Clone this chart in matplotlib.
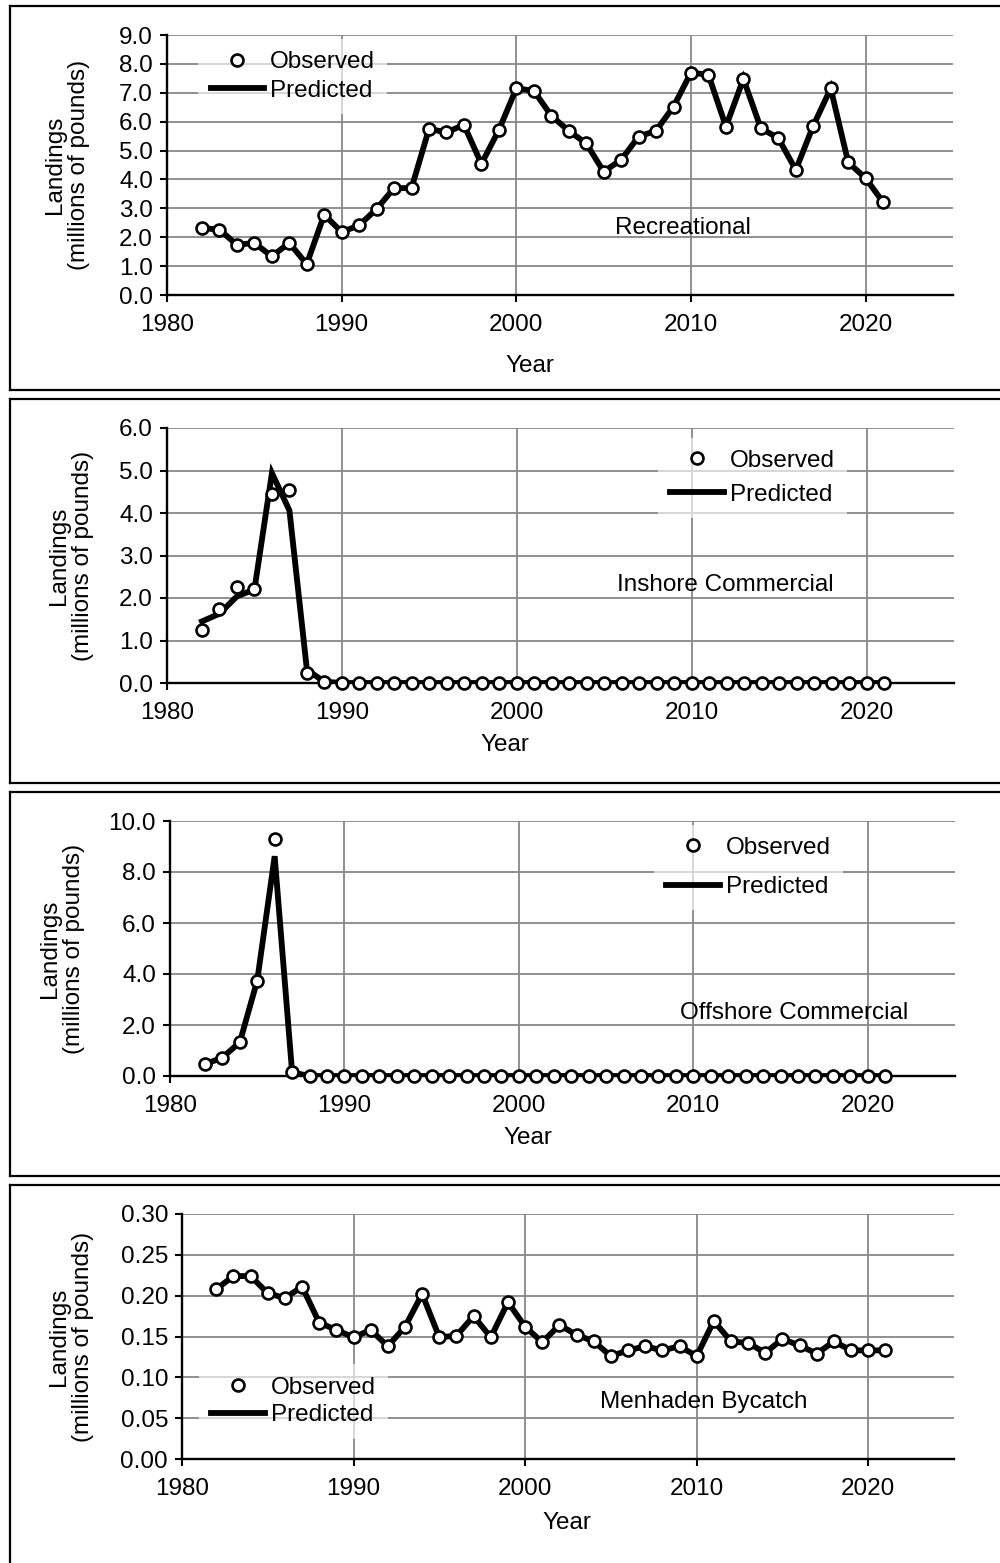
import numpy as np
import matplotlib
matplotlib.use("Agg")
import matplotlib.pyplot as plt
from matplotlib.lines import Line2D

plt.rcParams['font.family'] = ['Liberation Sans', 'DejaVu Sans']

years = list(range(1982, 2022))

rec_obs = [2.32, 2.26, 1.74, 1.80, 1.34, 1.80, 1.07, 2.78, 2.18, 2.41,
           2.98, 3.70, 3.70, 5.75, 5.63, 5.89, 4.54, 5.71, 7.15, 7.07,
           6.21, 5.68, 5.25, 4.27, 4.68, 5.48, 5.69, 6.52, 7.70, 7.62,
           5.83, 7.48, 5.77, 5.43, 4.33, 5.86, 7.15, 4.59, 4.04, 3.21]
rec_pred = list(rec_obs)

ins_obs = [1.25, 1.74, 2.26, 2.22, 4.45, 4.53, 0.24, 0.02] + [0.0] * 32
ins_pred = [1.45, 1.63, 2.04, 2.20, 4.94, 4.06, 0.31, 0.03] + [0.0] * 32

off_obs = [0.46, 0.72, 1.32, 3.74, 9.28, 0.14] + [0.0] * 34
off_pred = [0.46, 0.72, 1.32, 3.74, 8.62, 0.14] + [0.0] * 34

byc_obs = [0.208, 0.224, 0.224, 0.203, 0.197, 0.211, 0.167, 0.158, 0.149, 0.158,
           0.138, 0.162, 0.202, 0.149, 0.151, 0.175, 0.149, 0.192, 0.162, 0.143,
           0.164, 0.152, 0.144, 0.126, 0.133, 0.138, 0.133, 0.138, 0.126, 0.169,
           0.144, 0.142, 0.130, 0.147, 0.139, 0.129, 0.144, 0.133, 0.133, 0.133]
byc_pred = list(byc_obs)

W, H = 1000, 1563
fig = plt.figure(figsize=(W / 100, H / 100), dpi=100)


def fx(px):
    return px / W


def fy(py):
    return 1 - py / H


FS = 17.5

# (observed, predicted, name, ymax, ystep, yfmt, axes box px, ylabel x px,
#  name pos (axes), legend anchor (axes), legend labelspacing, year label px)
panels = [
    (rec_obs, rec_pred, 'Recreational', 9.0, 1.0, '%.1f',
     (167, 953, 35, 295), 67, (0.656, 0.258), (0.040, 0.985), 0.28, (530, 366)),
    (ins_obs, ins_pred, 'Inshore Commercial', 6.0, 1.0, '%.1f',
     (167, 954, 428, 683), 71, (0.709, 0.384), (0.624, 0.962), 0.48, (505, 745)),
    (off_obs, off_pred, 'Offshore Commercial', 10.0, 2.0, '%.1f',
     (170, 955, 821, 1076), 62, (0.795, 0.247), (0.617, 0.985), 0.7, (528, 1138)),
    (byc_obs, byc_pred, 'Menhaden Bycatch', 0.30, 0.05, '%.2f',
     (182, 954, 1214, 1459), 71, (0.676, 0.233), (0.022, 0.386), 0.24, (567, 1523)),
]

# outer boxes around each panel (right side runs off the page)
frames = [(6, 390, True), (399, 783, True), (792, 1176, True), (1185, 1580, False)]
for top, bot, has_bottom in frames:
    fig.add_artist(Line2D([fx(10), fx(10)], [fy(top), fy(min(bot, H + 5))],
                          color='black', lw=1.6, transform=fig.transFigure))
    fig.add_artist(Line2D([fx(10), fx(1005)], [fy(top), fy(top)],
                          color='black', lw=1.6, transform=fig.transFigure))
    if has_bottom:
        fig.add_artist(Line2D([fx(10), fx(1005)], [fy(bot), fy(bot)],
                              color='black', lw=1.6, transform=fig.transFigure))

for (obs, pred, name, ymax, ystep, yfmt, box, ylx, namepos, legpos,
     lspace, yearpos) in panels:
    l, r, t, b = box
    ax = fig.add_axes([fx(l), fy(b), (r - l) / W, (b - t) / H])
    ax.set_xlim(1980, 2025)
    ax.set_ylim(0, ymax)
    ax.set_xticks([1980, 1990, 2000, 2010, 2020])
    ax.set_yticks(np.arange(0, ymax + ystep / 2, ystep))
    ax.yaxis.set_major_formatter(matplotlib.ticker.FormatStrFormatter(yfmt))
    ax.grid(True, color='#878787', lw=1.3)
    ax.set_axisbelow(True)
    for s in ['top', 'right']:
        ax.spines[s].set_visible(False)
    for s in ['left', 'bottom']:
        ax.spines[s].set_linewidth(1.7)
        ax.spines[s].set_zorder(2.5)
    ax.tick_params(axis='both', direction='out', length=5, width=1.5,
                   labelsize=FS, colors='black')
    ax.tick_params(axis='x', pad=9)
    ax.tick_params(axis='y', pad=5)

    ax.plot(years, pred, color='black', lw=4.2, solid_joinstyle='miter',
            label='Predicted', zorder=3)
    ax.plot(years, obs, linestyle='none', marker='o', ms=8.6, mew=1.9,
            mfc='white', mec='black', label='Observed', zorder=4, clip_on=False)

    h, lab = ax.get_legend_handles_labels()
    leg = ax.legend([h[1], h[0]], [lab[1], lab[0]], loc='upper left',
                    bbox_to_anchor=legpos, borderaxespad=0, borderpad=0.5,
                    fontsize=FS, frameon=True, fancybox=False,
                    handlelength=2.2, handletextpad=0.25, labelspacing=lspace)
    leg.get_frame().set_facecolor('white')
    leg.get_frame().set_edgecolor('none')
    leg.get_frame().set_alpha(0.65)

    ax.text(namepos[0], namepos[1], name, transform=ax.transAxes,
            ha='center', va='center', fontsize=FS)
    ax.text((ylx - l) / (r - l), 0.5, 'Landings\n(millions of pounds)',
            transform=ax.transAxes, rotation=90, ha='center', va='center',
            multialignment='center', fontsize=FS, linespacing=1.15)
    fig.text(fx(yearpos[0]), fy(yearpos[1]), 'Year', ha='center', va='center',
             fontsize=FS)

fig.savefig('out.png', dpi=100)
